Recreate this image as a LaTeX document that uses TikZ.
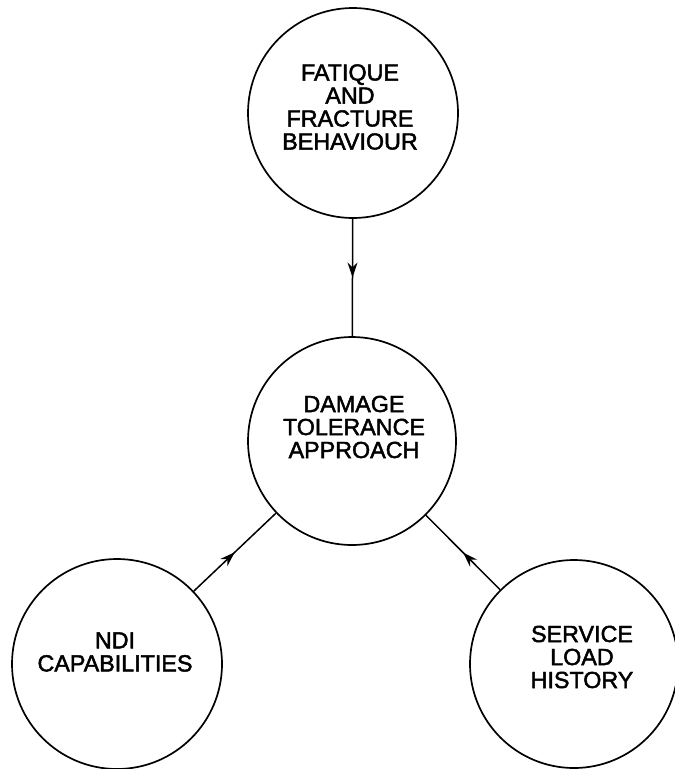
\documentclass[tikz,border=0pt]{standalone}
\usepackage{fontspec}
\setmainfont{Liberation Sans}
\newfontfamily\lblfont{Liberation Sans}[FakeBold=2]
\usetikzlibrary{arrows.meta,decorations.markings}
\begin{document}
\begin{tikzpicture}[x=1pt,y=-1pt,
  bubble/.style={circle,draw,line width=1.7pt,inner sep=0pt,minimum size=#1},
  lbl/.style={align=center,font=\lblfont\fontsize{23.3}{23}\selectfont,inner sep=0pt},
  midarrow/.style={line width=1.5pt,postaction={decorate},
    decoration={markings,mark=at position 0.5 with {\arrow{Stealth[length=15pt,width=10pt]}}}}]
\useasboundingbox (0,0) rectangle (675,769);
\node[bubble=210pt] (top) at (353,113) {};
\node[bubble=208pt] (mid) at (352,441) {};
\node[bubble=210pt] (bl) at (117,664) {};
\node[bubble=208pt] (br) at (574,664) {};
\node[lbl] (toptext) at (350,107) {FATIQUE\\AND\\FRACTURE\\BEHAVIOUR};
\node[lbl] (midtext) at (354,427) {DAMAGE\\TOLERANCE\\APPROACH};
\node[lbl] (bltext) at (115,652) {NDI\\CAPABILITIES};
\node[lbl] (brtext) at (582,657) {SERVICE\\LOAD\\HISTORY};
\draw[midarrow] (top) -- (mid);
\draw[midarrow] (bl) -- (mid);
\draw[midarrow] (br) -- (mid);
\end{tikzpicture}
\end{document}
